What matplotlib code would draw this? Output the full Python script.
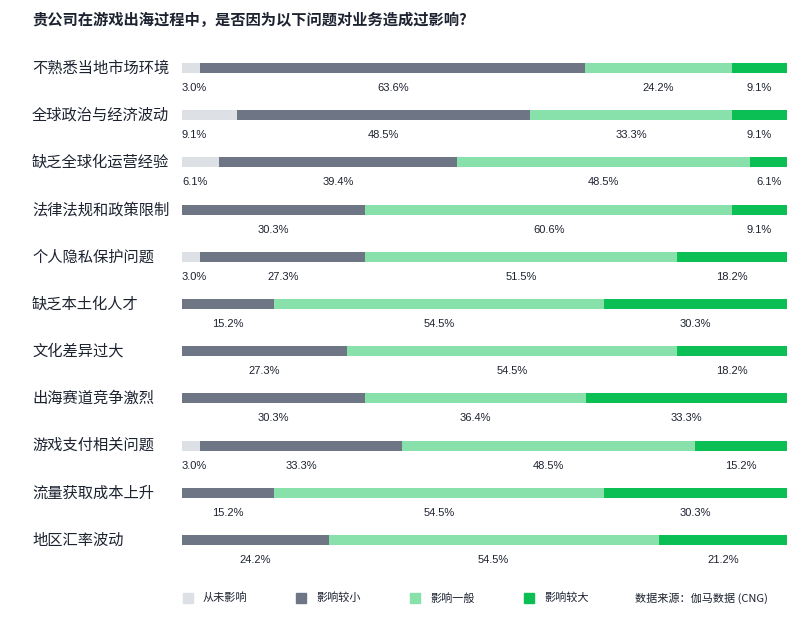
import matplotlib
matplotlib.use("Agg")
import matplotlib.pyplot as plt
from matplotlib.patches import Rectangle

plt.rcParams['font.family'] = ['Noto Sans CJK SC', 'DejaVu Sans']

title = "贵公司在游戏出海过程中，是否因为以下问题对业务造成过影响?"
categories = ["不熟悉当地市场环境", "全球政治与经济波动", "缺乏全球化运营经验", "法律法规和政策限制",
              "个人隐私保护问题", "缺乏本土化人才", "文化差异过大", "出海赛道竞争激烈",
              "游戏支付相关问题", "流量获取成本上升", "地区汇率波动"]
series_names = ["从未影响", "影响较小", "影响一般", "影响较大"]
never = [3.0, 9.1, 6.1, 0, 3.0, 0, 0, 0, 3.0, 0, 0]
small = [63.6, 48.5, 39.4, 30.3, 27.3, 15.2, 27.3, 30.3, 33.3, 15.2, 24.2]
medium = [24.2, 33.3, 48.5, 60.6, 51.5, 54.5, 54.5, 36.4, 48.5, 54.5, 54.5]
large = [9.1, 9.1, 6.1, 9.1, 18.2, 30.3, 18.2, 33.3, 15.2, 30.3, 21.2]
colors = ["#dde0e5", "#6e7686", "#88e1aa", "#0bbf54"]
source = "数据来源：伽马数据 (CNG)"

W, H = 811, 626
fig = plt.figure(figsize=(W/100, H/100), dpi=100)
ax = fig.add_axes([182/W, 1-563.6/H, 605/W, 519.2/H])
ax.set_xlim(0, 100)
ax.set_ylim(len(categories)-0.5, -0.5)
ax.axis('off')

txt_color = "#1c2230"
num_font = ['Liberation Sans', 'Noto Sans CJK SC']
data = [never, small, medium, large]
bar_h = 10/47.2
lab_off = 20/47.2
for i, cat in enumerate(categories):
    total = sum(vals[i] for vals in data)
    k = 100.0 / total
    left = 0
    for s, vals in enumerate(data):
        v = vals[i]
        w = v * k
        if v > 0:
            ax.barh(i, w, left=left, height=bar_h, color=colors[s], edgecolor='none')
            if s == 0:
                ax.text(left, i+lab_off, f"{v:.1f}%", ha='left', va='center', fontsize=8,
                        color=txt_color, family=num_font)
            else:
                ax.text(left+w/2, i+lab_off, f"{v:.1f}%", ha='center', va='center', fontsize=8,
                        color=txt_color, family=num_font)
        left += w
    ax.text(-150/605*100, i, cat, ha='left', va='center', fontsize=11, color=txt_color)

fig.text(32/W, 1-20/H, title, ha='left', va='center', fontsize=11, fontweight='bold', color=txt_color)

leg_sq = [183, 296, 410, 524]
for x, name, c in zip(leg_sq, series_names, colors):
    fig.patches.append(Rectangle((x/W, 1-603/H), 10/W, 10/H, transform=fig.transFigure,
                                 color=c, edgecolor='none'))
    fig.text((x+20)/W, 1-598/H, name, ha='left', va='center', fontsize=8, color=txt_color)
fig.text(635/W, 1-598/H, source, ha='left', va='center', fontsize=8, color=txt_color,
         family=['Noto Sans CJK SC', 'DejaVu Sans'])

fig.savefig("out.png", dpi=100)
